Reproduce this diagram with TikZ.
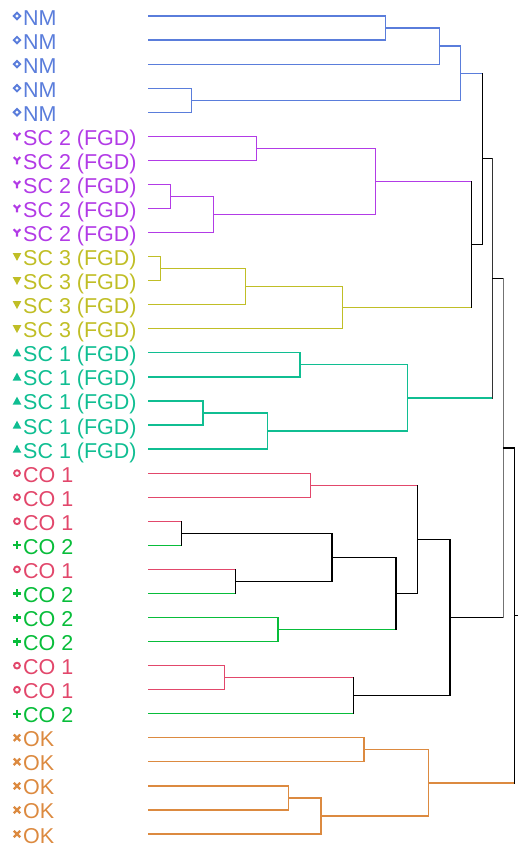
\documentclass[tikz,border=0pt]{standalone}
\usepackage{fontspec}
\setmainfont{Liberation Sans}
\usetikzlibrary{calc}

\definecolor{cNM}{HTML}{5A7DDB}
\definecolor{cSB}{HTML}{B23BE6}
\definecolor{cSC}{HTML}{C0BE26}
\definecolor{cSA}{HTML}{10BE92}
\definecolor{cCA}{HTML}{E2476B}
\definecolor{cCB}{HTML}{08BD3A}
\definecolor{cOK}{HTML}{DC8A40}

% join two subtrees: name, child a, child b, height, vertical colour, colour a, colour b
\newcommand\jn[7]{%
  \path let \p1=(#2), \p2=(#3) in coordinate (#1) at (#4pt,{0.5*(\y1+\y2)});
  \draw[edge,#6] (#2) -- (#2 -| #1);
  \draw[edge,#7] (#3) -- (#3 -| #1);
  \draw[edge,#5] (#2 -| #1) -- (#3 -| #1);
}

\tikzset{
  edge/.style={line width=1.2pt, line cap=rect},
  lbl/.style={anchor=base west, inner sep=0pt, font=\fontsize{21.5}{24}\selectfont},
  mk/.style={line width=2pt},
  mNM/.pic={\draw[mk,cNM,line width=1.9pt] (-3.2,0) -- (0,-3.2) -- (3.2,0) -- (0,3.2) -- cycle;},
  mSB/.pic={\draw[mk,cSB,line width=2.1pt] (-3.3,-3.3) -- (0,0) -- (3.3,-3.3) (0,0) -- (0,4);},
  mSC/.pic={\fill[cSC] (-4.3,-3.6) -- (4.3,-3.6) -- (0,4.3) -- cycle;},
  mSA/.pic={\fill[cSA] (-4.3,3.6) -- (4.3,3.6) -- (0,-4.3) -- cycle;},
  mCA/.pic={\draw[mk,cCA,line width=1.9pt] (0,0) circle (2.9);},
  mCB/.pic={\draw[mk,cCB,line width=2.3pt] (-4,0) -- (4,0) (0,-4) -- (0,4);},
  mOK/.pic={\draw[mk,cOK,line width=2.3pt] (-3.2,-3.2) -- (3.2,3.2) (-3.2,3.2) -- (3.2,-3.2);},
}

\begin{document}
\begin{tikzpicture}[x=1pt,y=-1pt]
\useasboundingbox (0,0) rectangle (517,846);

% leaves: label, marker and the start of each leaf line
\foreach \lab/\col/\mark [count=\i from 0] in {
  NM/cNM/mNM, NM/cNM/mNM, NM/cNM/mNM, NM/cNM/mNM, NM/cNM/mNM,
  SC 2 (FGD)/cSB/mSB, SC 2 (FGD)/cSB/mSB, SC 2 (FGD)/cSB/mSB, SC 2 (FGD)/cSB/mSB, SC 2 (FGD)/cSB/mSB,
  SC 3 (FGD)/cSC/mSC, SC 3 (FGD)/cSC/mSC, SC 3 (FGD)/cSC/mSC, SC 3 (FGD)/cSC/mSC,
  SC 1 (FGD)/cSA/mSA, SC 1 (FGD)/cSA/mSA, SC 1 (FGD)/cSA/mSA, SC 1 (FGD)/cSA/mSA, SC 1 (FGD)/cSA/mSA,
  CO 1/cCA/mCA, CO 1/cCA/mCA, CO 1/cCA/mCA, CO 2/cCB/mCB, CO 1/cCA/mCA, CO 2/cCB/mCB,
  CO 2/cCB/mCB, CO 2/cCB/mCB, CO 1/cCA/mCA, CO 1/cCA/mCA, CO 2/cCB/mCB,
  OK/cOK/mOK, OK/cOK/mOK, OK/cOK/mOK, OK/cOK/mOK, OK/cOK/mOK} {
  \node[lbl, text=\col] (t\i) at (23, {16+24.06*\i+9}) {\lab};
  \coordinate (m\i) at (17, {16+24.06*\i});
  \pic at (m\i) {\mark};
  \coordinate (l\i) at (149, {16+24.06*\i});
}

% NM
\jn{n12}{l0}{l1}{385.7}{cNM}{cNM}{cNM}
\jn{n123}{n12}{l2}{439.3}{cNM}{cNM}{cNM}
\jn{n45}{l3}{l4}{191.7}{cNM}{cNM}{cNM}
\jn{nm}{n123}{n45}{460.7}{cNM}{cNM}{cNM}
% SC 2
\jn{s12}{l5}{l6}{256.3}{cSB}{cSB}{cSB}
\jn{s34}{l7}{l8}{170.7}{cSB}{cSB}{cSB}
\jn{s345}{s34}{l9}{213.3}{cSB}{cSB}{cSB}
\jn{sc2}{s12}{s345}{375.3}{cSB}{cSB}{cSB}
% SC 3
\jn{t12}{l10}{l11}{160.3}{cSC}{cSC}{cSC}
\jn{t123}{t12}{l12}{245.7}{cSC}{cSC}{cSC}
\jn{sc3}{t123}{l13}{342.3}{cSC}{cSC}{cSC}
\jn{a}{sc2}{sc3}{471.7}{black}{cSB}{cSC}
\jn{b}{nm}{a}{482.3}{black}{cNM}{black}
% SC 1
\jn{u12}{l14}{l15}{300}{cSA}{cSA}{cSA}
\jn{u34}{l16}{l17}{203}{cSA}{cSA}{cSA}
\jn{u345}{u34}{l18}{267.3}{cSA}{cSA}{cSA}
\jn{sc1}{u12}{u345}{407.3}{cSA}{cSA}{cSA}
\jn{c}{b}{sc1}{492.7}{black!80}{black}{cSA}
% CO 1 and CO 2
\jn{c12}{l19}{l20}{310.3}{cCA}{cCA}{cCA}
\jn{c34}{l21}{l22}{181.3}{black}{cCA}{cCB}
\jn{c56}{l23}{l24}{235.3}{black}{cCA}{cCB}
\jn{c36}{c34}{c56}{332}{black}{black}{black}
\jn{c78}{l25}{l26}{278}{cCB}{cCB}{cCB}
\jn{c38}{c36}{c78}{396}{black}{black}{cCB}
\jn{c18}{c12}{c38}{417.7}{black}{cCA}{black}
\jn{c9a}{l27}{l28}{224.3}{cCA}{cCA}{cCA}
\jn{c9b}{c9a}{l29}{353.3}{black}{cCA}{cCB}
\jn{co}{c18}{c9b}{450}{black}{black}{black}
% OK
\jn{o12}{l30}{l31}{364}{cOK}{cOK}{cOK}
\jn{o34}{l32}{l33}{288.7}{cOK}{cOK}{cOK}
\jn{o35}{o34}{l34}{321}{cOK}{cOK}{cOK}
\jn{ok}{o12}{o35}{428.7}{cOK}{cOK}{cOK}
% top of the tree
\jn{e}{c}{co}{503.3}{black!55}{black}{black}
\jn{root}{e}{ok}{514.3}{black}{black}{cOK}
\coordinate (tip) at ([xshift=2.7pt]root);
\draw[edge] (root) -- (tip);
\end{tikzpicture}
\end{document}
